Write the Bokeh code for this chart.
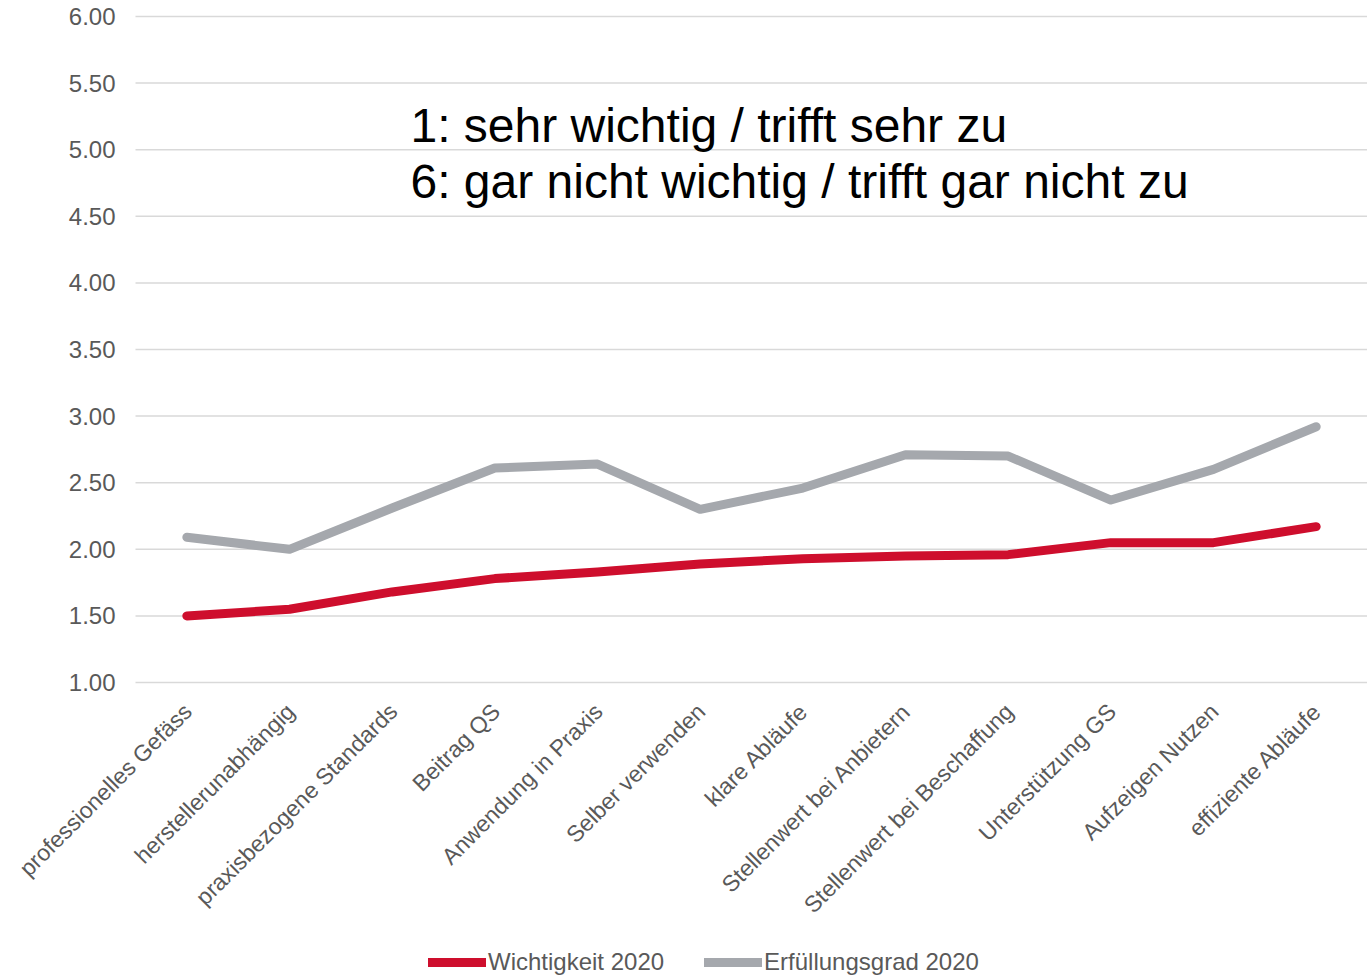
from bokeh.plotting import figure
from bokeh.models import Range1d, Legend, LegendItem, Label, ColumnDataSource
from bokeh.core.properties import value
from bokeh.embed import file_html
from bokeh.resources import INLINE
import math

categories = ["professionelles Gefäss", "herstellerunabhängig", "praxisbezogene Standards",
              "Beitrag QS", "Anwendung in Praxis", "Selber verwenden", "klare Abläufe",
              "Stellenwert bei Anbietern", "Stellenwert bei Beschaffung", "Unterstützung GS",
              "Aufzeigen Nutzen", "effiziente Abläufe"]
wichtigkeit = [1.50, 1.55, 1.68, 1.78, 1.83, 1.89, 1.93, 1.95, 1.96, 2.05, 2.05, 2.17]
erfuellung = [2.09, 2.00, 2.31, 2.61, 2.64, 2.30, 2.46, 2.71, 2.70, 2.37, 2.60, 2.92]
y_ticks = [1.0, 1.5, 2.0, 2.5, 3.0, 3.5, 4.0, 4.5, 5.0, 5.5, 6.0]
note_lines = ["1: sehr wichtig / trifft sehr zu", "6: gar nicht wichtig / trifft gar nicht zu"]

FONT = "Liberation Sans"
GREY_TXT = "#595959"
RED = "#CE0E2D"
GREY = "#A5A8AD"

n = len(categories)
xs = list(range(n))
x_lo, x_hi = -0.5, n - 0.5
src = ColumnDataSource(dict(x=xs, w=wichtigkeit, e=erfuellung,
                            base=[y_ticks[0]] * n, cat=categories))
tick_src = ColumnDataSource(dict(y=y_ticks, x0=[x_lo] * len(y_ticks), x1=[x_hi] * len(y_ticks),
                                 lab=["%.2f" % t for t in y_ticks]))

# one frame covering the whole canvas; axes, grid and category labels drawn from the data
p = figure(frame_width=1367, frame_height=976, output_backend="svg", toolbar_location=None,
           x_range=Range1d(-1.815, x_hi), y_range=Range1d(-1.207, 6.12),
           min_border_left=0, min_border_right=0, min_border_top=0, min_border_bottom=0,
           background_fill_color="white", border_fill_color="white")
p.outline_line_color = None
p.xaxis.visible = False
p.yaxis.visible = False
p.xgrid.visible = False
p.ygrid.visible = False

# horizontal grid lines and value labels
p.segment(x0="x0", x1="x1", y0="y", y1="y", source=tick_src, line_color="#D9D9D9", line_width=1.5)
p.text(x="x0", y="y", text="lab", source=tick_src, x_offset=-20,
       text_align="right", text_baseline="middle",
       text_font=value(FONT), text_font_size="24px", text_color=GREY_TXT)

r1 = p.line("x", "w", source=src, line_color=RED, line_width=9, line_cap="round", line_join="round")
r2 = p.line("x", "e", source=src, line_color=GREY, line_width=9, line_cap="round", line_join="round")

# category labels (rotated 45°)
p.text(x="x", y="base", text="cat", source=src, angle=math.pi / 4,
       text_align="right", text_baseline="middle", x_offset=1, y_offset=25,
       text_font=value(FONT), text_font_size="23px", text_color=GREY_TXT)

# annotation
p.add_layout(Label(x=2.178, y=5.18, text=note_lines[0], text_font=FONT,
                   text_font_size="48px", text_color="black", text_baseline="alphabetic"))
p.add_layout(Label(x=2.178, y=4.76, text=note_lines[1], text_font=FONT,
                   text_font_size="48px", text_color="black", text_baseline="alphabetic"))

legend = Legend(items=[LegendItem(label="Wichtigkeit 2020", renderers=[r1]),
                       LegendItem(label="Erfüllungsgrad 2020", renderers=[r2])],
                orientation="horizontal", location=(428, 0),
                label_text_font=FONT, label_text_font_size="24px",
                label_text_color=GREY_TXT, glyph_width=58, label_standoff=2,
                spacing=40, border_line_color=None, background_fill_alpha=0,
                margin=0, padding=0)
p.add_layout(legend, "center")

open("out.html", "w").write(file_html(p, INLINE))
